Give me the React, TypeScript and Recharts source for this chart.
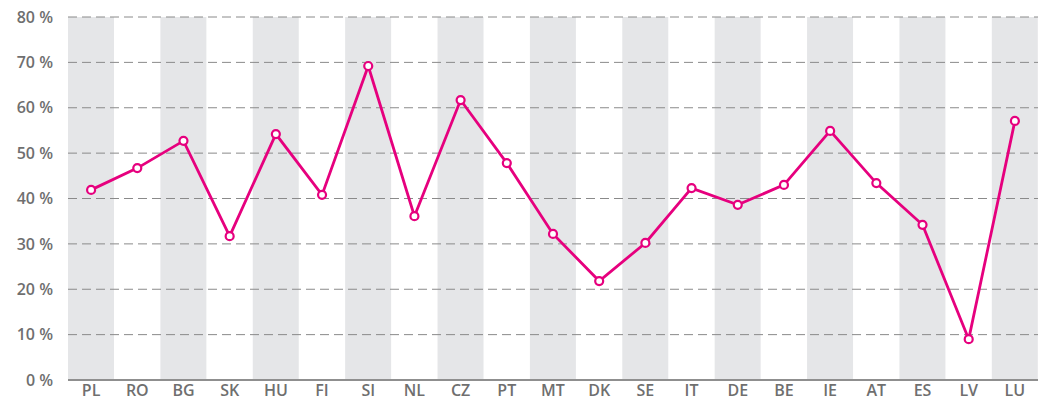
import { ComposedChart, Bar, Line, XAxis, YAxis, CartesianGrid } from "recharts";

const countries = ["PL", "RO", "BG", "SK", "HU", "FI", "SI", "NL", "CZ", "PT", "MT", "DK", "SE", "IT", "DE", "BE", "IE", "AT", "ES", "LV", "LU"];
const shares = [41.9, 46.7, 52.7, 31.7, 54.2, 40.8, 69.2, 36.1, 61.7, 47.8, 32.2, 21.8, 30.2, 42.3, 38.6, 43.0, 54.9, 43.4, 34.2, 9.0, 57.1];
const yTicks = [0, 10, 20, 30, 40, 50, 60, 70, 80];

const PINK = "#e6007e";
const TEXT = "#6f6f6f";

export default function App() {
  // grey stripe on every other category, drawn as full-height bars
  const data = countries.map((c, i) => ({ country: c, value: shares[i], band: i % 2 === 0 ? 80 : null }));
  const tickStyle = { fontSize: 16, fill: TEXT, fontFamily: "'Open Sans', sans-serif", fontWeight: 600 };

  return (
    <div style={{ position: "absolute", left: 0, top: 0 }}>
      <ComposedChart width={1041} height={403} data={data} margin={{ top: 17, right: 3, left: 0, bottom: 0 }} barCategoryGap={0}>
        <XAxis dataKey="country" tick={tickStyle} tickLine={false} tickSize={0} tickMargin={5} height={23}
          axisLine={{ stroke: "#8f8f8f", strokeWidth: 2 }} interval={0} />
        <YAxis domain={[0, 80]} ticks={yTicks} tick={tickStyle} tickLine={false} tickSize={0} tickMargin={15} width={68}
          axisLine={false} tickFormatter={(v: number) => `${v} %`} />
        <Bar dataKey="band" fill="#e5e6e8" isAnimationActive={false} />
        <CartesianGrid vertical={false} stroke="#8a8a8a" strokeDasharray="9 5" zIndex={350} />
        <Line type="linear" dataKey="value" stroke={PINK} strokeWidth={2.8} isAnimationActive={false}
          dot={{ r: 4, fill: "#fff", stroke: PINK, strokeWidth: 2.2 }} activeDot={false} />
      </ComposedChart>
    </div>
  );
}
